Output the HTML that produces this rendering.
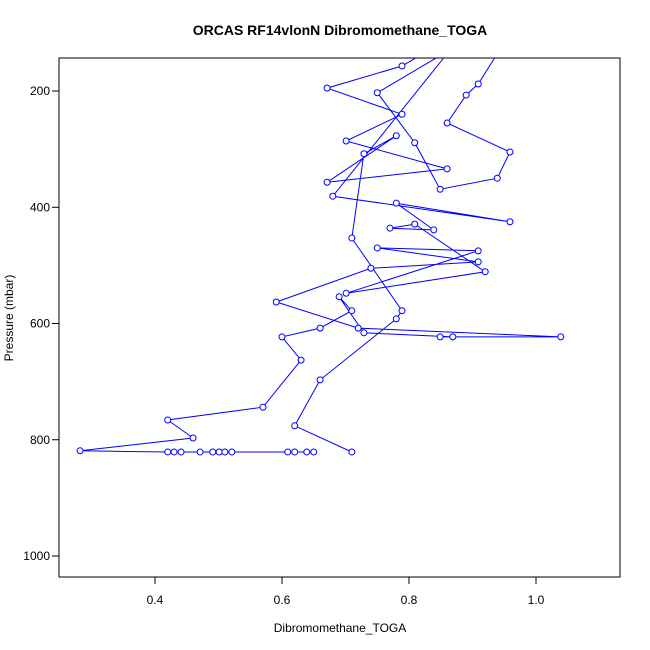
<!DOCTYPE html>
<html><head><meta charset="utf-8"><style>
html,body{margin:0;padding:0;background:#fff;}
svg{display:block;font-family:"Liberation Sans",sans-serif;}
</style></head><body>
<svg id="chart" width="650" height="650">
<text x="340" y="35" text-anchor="middle" font-size="14" font-weight="bold">ORCAS RF14vlonN Dibromomethane_TOGA</text>
<text x="340" y="632" text-anchor="middle" font-size="12">Dibromomethane_TOGA</text>
<text transform="translate(13,318) rotate(-90)" text-anchor="middle" font-size="12">Pressure (mbar)</text>
<defs><clipPath id="clip"><rect x="59" y="58" width="561" height="519"/></clipPath></defs>
<rect x="59" y="58" width="561" height="519" fill="none" stroke="#000" stroke-width="1"/>
<g id="axes"></g>
<g id="marks" clip-path="url(#clip)"></g>
</svg>
<script>
const xTicks=[0.4,0.6,0.8,1.0];
const xTickLabels=["0.4","0.6","0.8","1.0"];
const yTicks=[200,400,600,800,1000];
const yTickLabels=["200","400","600","800","1000"];
const conc=[0.710,0.620,0.660,0.780,0.789,0.710,0.729,0.780,0.671,0.860,0.701,0.789,0.671,0.789,0.833,0.943,0.909,0.890,0.860,0.959,0.939,0.849,0.809,0.750,0.865,0.680,0.959,0.780,0.839,0.770,0.809,0.920,0.701,0.909,0.750,0.909,0.740,0.591,0.720,1.039,0.849,0.869,0.729,0.690,0.710,0.660,0.600,0.630,0.570,0.420,0.460,0.282,0.420,0.430,0.441,0.471,0.491,0.501,0.510,0.521,0.609,0.620,0.639,0.650];
const pres=[821,776,697,592,578,453,308,277,357,334,286,240,195,157,129,129,188,207,255,305,350,369,289,203,129,381,425,393,439,436,429,511,548,475,470,494,505,563,608,623,623,623,616,554,578,608,623,663,744,766,797,819,821,821,821,821,821,821,821,821,821,821,821,821];
const X=v=>155+(v-0.4)*635;
const Y=p=>91+(p-200)*0.58125;
const NS="http://www.w3.org/2000/svg";
const axes=document.getElementById('axes'),marks=document.getElementById('marks');
function mk(t,a,parent){const e=document.createElementNS(NS,t);for(const k in a)e.setAttribute(k,a[k]);parent.appendChild(e);return e;}
xTicks.forEach((v,i)=>{
  const l=mk('line',{x1:X(v),x2:X(v),y1:577,y2:584,stroke:'#000'},axes);
  
  
  const t=mk('text',{x:X(v),y:604,'text-anchor':'middle','font-size':12},axes);
  t.textContent=xTickLabels[i];
  
  
});
yTicks.forEach((v,i)=>{
  const l=mk('line',{x1:52,x2:59,y1:Y(v),y2:Y(v),stroke:'#000'},axes);
  
  
  const t=mk('text',{x:50,y:Y(v)+4,'text-anchor':'end','font-size':12},axes);
  t.textContent=yTickLabels[i];
  
  
});
const pts=conc.map((c,i)=>X(c).toFixed(1)+','+Y(pres[i]).toFixed(1)).join(' ');
const pl=mk('polyline',{points:pts,fill:'none',stroke:'#0000ff','stroke-width':1},marks);


conc.forEach((c,i)=>{
  const ci=mk('circle',{cx:X(c),cy:Y(pres[i]),r:3,fill:'#fff',stroke:'#0000ff','stroke-width':1},marks);
  
  
});
</script>
</body></html>
